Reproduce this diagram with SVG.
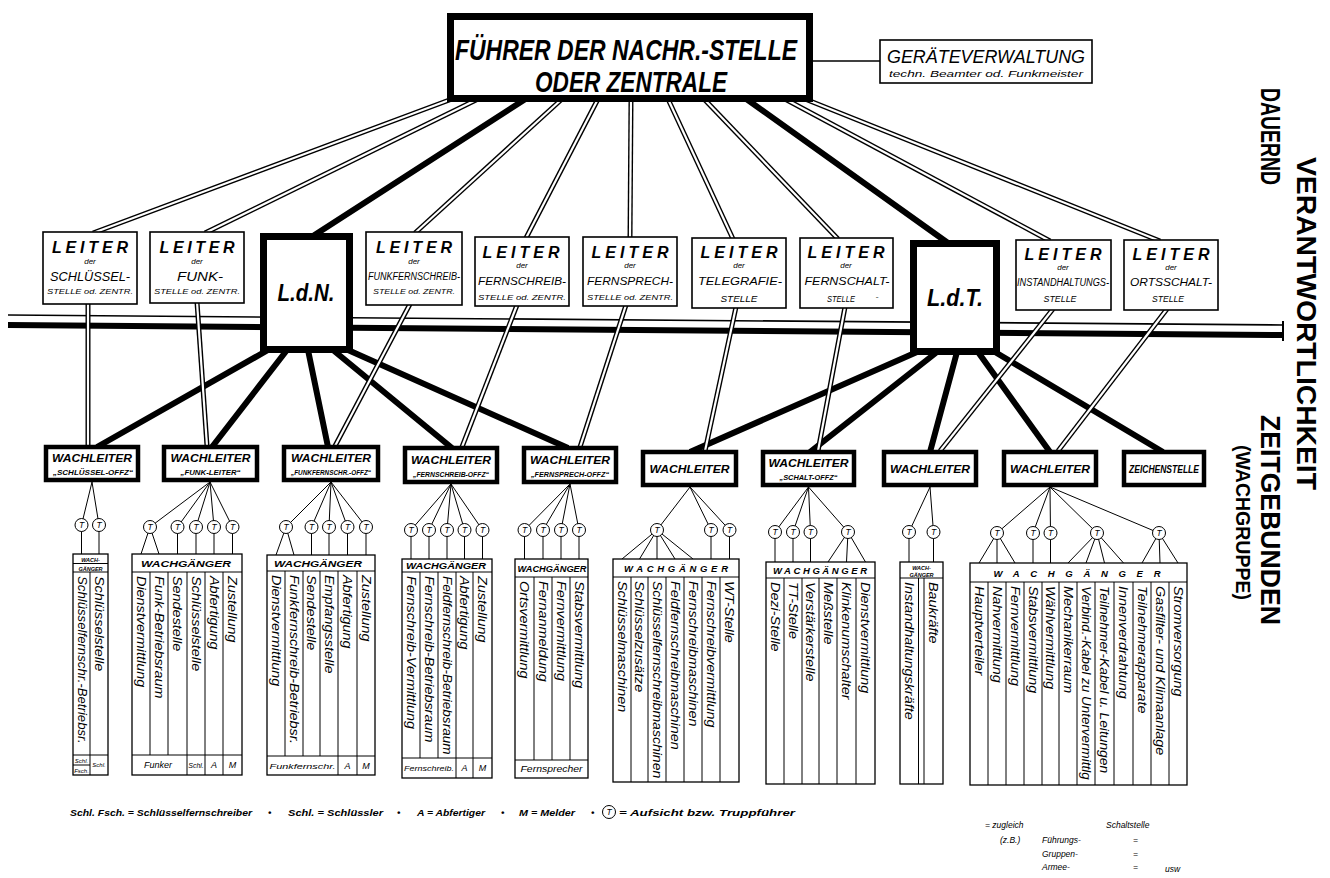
<svg xmlns="http://www.w3.org/2000/svg" width="1330" height="878" viewBox="0 0 1330 878">
<style>
text{font-family:"Liberation Sans",Arial,sans-serif;font-style:italic;fill:#000}
.b{font-weight:bold}
.m{text-anchor:middle}
.box{fill:#fff;stroke:#000;stroke-width:1.6}
.wb{fill:#fff;stroke:#000;stroke-width:4.5}
.hb{fill:#fff;stroke:#000;stroke-width:7}
.thk{stroke:#000;stroke-width:6;fill:none}
.do{stroke:#000;stroke-width:5;fill:none}
.di{stroke:#fff;stroke-width:2.2;fill:none}
.ln{stroke:#000;stroke-width:1;fill:none}
.gb{fill:#fff;stroke:#000;stroke-width:1.3}
.c{font-size:12px;dominant-baseline:central}
.lt{font-size:16px;font-weight:bold}
.der{font-size:8px}
.lm{font-size:12px}
.ls{font-size:8px}
.wl{font-size:11.5px;font-weight:bold}
.ws{font-size:7px;font-weight:bold}
.hd{font-size:9.5px;font-weight:bold}
.ft{font-size:8px}
.up{font-style:normal;font-weight:bold;dominant-baseline:central}
.lg{font-size:9.5px;font-weight:bold}
</style>
<defs>
<g id="tc"><circle r="6.5" fill="#fff" stroke="#000" stroke-width="1"/><text class="m" y="3" font-size="8.5">T</text></g>
<path id="d1" d="M452 99L93 233"/>
<path id="d2" d="M478 99L205 233"/>
<path id="d4" d="M562 99L415 233"/>
<path id="d5" d="M598 99L526 238"/>
<path id="d6" d="M631 99L630 238"/>
<path id="d7" d="M668 99L733 239"/>
<path id="d8" d="M704 99L838 239"/>
<path id="d10" d="M785 99L1050 241"/>
<path id="d11" d="M805 99L1160 241"/>
<path id="e1" d="M88 303L88 446"/>
<path id="e2" d="M197 302L207 446"/>
<path id="e4" d="M410 304L335 446"/>
<path id="e5" d="M517 305L462 447"/>
<path id="e6" d="M626 305L580 447"/>
<path id="e7" d="M736 307L705 451"/>
<path id="e8" d="M845 307L818 451"/>
<path id="e10" d="M1053 309L940 451"/>
<path id="e11" d="M1167 309L1058 451"/>
</defs>
<rect width="1330" height="878" fill="#fff"/>

<g id="band">
<path d="M8 315L1283 325" stroke="#000" stroke-width="1.6"/>
<path d="M8 325L1283 335" stroke="#000" stroke-width="6"/>
<path d="M1283 321V341" stroke="#000" stroke-width="2"/>
</g>

<g id="connectors">
<path class="thk" d="M527 98L313 236M745 98L948 243M268 350L97 447M287 350L212 447M308 350L328 447M333 350L452 448M348 350L568 448M917 352L690 452M937 352L810 452M957 352L930 452M978 352L1050 452M995 352L1163 452"/>
<g class="do">
<use href="#d1"/><use href="#d2"/><use href="#d4"/><use href="#d5"/><use href="#d6"/><use href="#d7"/><use href="#d8"/><use href="#d10"/><use href="#d11"/>
<use href="#e1"/><use href="#e2"/><use href="#e4"/><use href="#e5"/><use href="#e6"/><use href="#e7"/><use href="#e8"/><use href="#e10"/><use href="#e11"/>
</g>
<g class="di">
<use href="#d1"/><use href="#d2"/><use href="#d4"/><use href="#d5"/><use href="#d6"/><use href="#d7"/><use href="#d8"/><use href="#d10"/><use href="#d11"/>
<use href="#e1"/><use href="#e2"/><use href="#e4"/><use href="#e5"/><use href="#e6"/><use href="#e7"/><use href="#e8"/><use href="#e10"/><use href="#e11"/>
</g>
<path d="M813 61H880" stroke="#000" stroke-width="1.5"/>
<path class="ln" d="M92 482L81.5 525M92 482L99 525M81.5 525V554M99 525V554"/>
<path class="ln" d="M210 482L150 527M210 482L177.5 527M210 482L196 527M210 482L214 527M210 482L232.5 527M150 527L141 554M150 527L159 554M177.5 527V554M196 527V554M214 527V554M232.5 527V554"/>
<path class="ln" d="M331 482L286 527M331 482L311.5 527M331 482L329 527M331 482L347.5 527M331 482L366 527M286 527L276 555M286 527L294 555M311.5 527V555M329 527V555M347.5 527V555M366 527V555"/>
<path class="ln" d="M451 484L411 530M451 484L429 530M451 484L447 530M451 484L464.5 530M451 484L482.5 530M411 530V559M429 530V559M447 530V559M464.5 530V559M482.5 530V559"/>
<path class="ln" d="M570 484L524.5 530M570 484L543 530M570 484L561 530M570 484L579 530M524.5 530V559M543 530V559M561 530V559M579 530V559"/>
<path class="ln" d="M690 487L657 530M690 487L711 530M690 487L729.5 530M657 530L622 559M657 530L639.5 559M657 530V559M657 530L675 559M657 530L693 559M711 530V559M729.5 530V559"/>
<path class="ln" d="M808.5 487L775 532M808.5 487L793 532M808.5 487L810.5 532M808.5 487L848 532M775 532V562M793 532V562M810.5 532V562M848 532L828 562M848 532L846.5 562M848 532L865.5 562"/>
<path class="ln" d="M930 487L909 532M930 487L933.5 532M909 532V562M933.5 532V562"/>
<path class="ln" d="M1050 487L997 533M1050 487L1033 533M1050 487L1050.5 533M1050 487L1097 533M1050 487L1159 533M997 533L979 563M997 533V563M997 533L1015 563M1033 533V563M1050.5 533V563M1097 533L1068 563M1097 533L1086 563M1097 533L1104.5 563M1097 533L1123.5 563M1159 533L1142 563M1159 533L1160 563M1159 533L1178 563"/>
</g>

<g id="fuehrer">
<rect class="hb" x="450.5" y="16.5" width="359" height="82"/>
<text class="m b" x="626" y="60" font-size="30" textLength="342" lengthAdjust="spacingAndGlyphs">FÜHRER DER NACHR.-STELLE</text>
<text class="m b" x="631" y="92" font-size="30" textLength="192" lengthAdjust="spacingAndGlyphs">ODER ZENTRALE</text>
</g>
<g id="geraeteverwaltung">
<rect class="box" x="880" y="40" width="212" height="43"/>
<text class="m" x="986" y="63" font-size="18" textLength="198" lengthAdjust="spacingAndGlyphs">GERÄTEVERWALTUNG</text>
<text class="m" x="986" y="77" font-size="8.5" textLength="194" lengthAdjust="spacingAndGlyphs">techn. Beamter od. Funkmeister</text>
</g>

<g id="leiter-schluessel">
<rect class="box" x="43" y="232" width="94" height="72"/>
<text class="m lt" x="90" y="253" textLength="76" lengthAdjust="spacing">LEITER</text>
<text class="m der" x="90" y="264">der</text>
<text class="m lm" x="90" y="281" textLength="80" lengthAdjust="spacingAndGlyphs">SCHLÜSSEL-</text>
<text class="m ls" x="90" y="294" textLength="86" lengthAdjust="spacingAndGlyphs">STELLE od. ZENTR.</text>
</g>
<g id="leiter-funk">
<rect class="box" x="150" y="232" width="94" height="71"/>
<text class="m lt" x="197" y="253" textLength="75" lengthAdjust="spacing">LEITER</text>
<text class="m der" x="197" y="264">der</text>
<text class="m lm" x="200" y="281" textLength="46" lengthAdjust="spacingAndGlyphs">FUNK-</text>
<text class="m ls" x="197" y="294" textLength="86" lengthAdjust="spacingAndGlyphs">STELLE od. ZENTR.</text>
</g>
<g id="ldn">
<rect class="hb" x="263.5" y="236.5" width="86" height="113"/>
<text class="m b" x="306" y="301" font-size="23" textLength="57" lengthAdjust="spacingAndGlyphs">L.d.N.</text>
</g>
<g id="leiter-funkfernschreib">
<rect class="box" x="366" y="232" width="96" height="73"/>
<text class="m lt" x="414" y="253" textLength="76" lengthAdjust="spacing">LEITER</text>
<text class="m der" x="414" y="264">der</text>
<text class="m" x="414" y="280" font-size="10" textLength="92" lengthAdjust="spacingAndGlyphs">FUNKFERNSCHREIB-</text>
<text class="m ls" x="414" y="294" textLength="82" lengthAdjust="spacingAndGlyphs">STELLE od. ZENTR.</text>
</g>
<g id="leiter-fernschreib">
<rect class="box" x="475" y="237" width="94" height="69"/>
<text class="m lt" x="521" y="258" textLength="77" lengthAdjust="spacing">LEITER</text>
<text class="m der" x="522" y="268">der</text>
<text class="m" x="522" y="285" font-size="11.5" textLength="88" lengthAdjust="spacingAndGlyphs">FERNSCHREIB-</text>
<text class="m ls" x="522" y="300" textLength="88" lengthAdjust="spacingAndGlyphs">STELLE od. ZENTR.</text>
</g>
<g id="leiter-fernsprech">
<rect class="box" x="583" y="237" width="94" height="69"/>
<text class="m lt" x="630" y="258" textLength="77" lengthAdjust="spacing">LEITER</text>
<text class="m der" x="630" y="268">der</text>
<text class="m" x="630" y="285" font-size="11.5" textLength="86" lengthAdjust="spacingAndGlyphs">FERNSPRECH-</text>
<text class="m ls" x="630" y="300" textLength="86" lengthAdjust="spacingAndGlyphs">STELLE od. ZENTR.</text>
</g>
<g id="leiter-telegrafie">
<rect class="box" x="692" y="238" width="94" height="70"/>
<text class="m lt" x="739" y="258" textLength="77" lengthAdjust="spacing">LEITER</text>
<text class="m der" x="739" y="268">der</text>
<text class="m" x="740" y="285" font-size="11.5" textLength="84" lengthAdjust="spacingAndGlyphs">TELEGRAFIE-</text>
<text class="m" x="739" y="302" font-size="9.5" textLength="37" lengthAdjust="spacingAndGlyphs">STELLE</text>
</g>
<g id="leiter-fernschalt">
<rect class="box" x="800" y="238" width="93" height="70"/>
<text class="m lt" x="846" y="258" textLength="77" lengthAdjust="spacing">LEITER</text>
<text class="m der" x="846" y="268">der</text>
<text class="m" x="847" y="285" font-size="11.5" textLength="85" lengthAdjust="spacingAndGlyphs">FERNSCHALT-</text>
<text class="m" x="841" y="302" font-size="9" textLength="28" lengthAdjust="spacingAndGlyphs">STELLE</text>
<text class="m" x="877" y="300" font-size="9">-</text>
</g>
<g id="ldt">
<rect class="hb" x="913.5" y="243.5" width="83" height="108"/>
<text class="m b" x="955" y="306" font-size="23" textLength="56" lengthAdjust="spacingAndGlyphs">L.d.T.</text>
</g>
<g id="leiter-instandhaltung">
<rect class="box" x="1016" y="240" width="95" height="70"/>
<text class="m lt" x="1063" y="260" textLength="77" lengthAdjust="spacing">LEITER</text>
<text class="m der" x="1063" y="270">der</text>
<text class="m" x="1063" y="286" font-size="10" textLength="92" lengthAdjust="spacingAndGlyphs">INSTANDHALTUNGS-</text>
<text class="m" x="1060" y="302" font-size="8.5" textLength="33" lengthAdjust="spacingAndGlyphs">STELLE</text>
</g>
<g id="leiter-ortsschalt">
<rect class="box" x="1124" y="240" width="94" height="70"/>
<text class="m lt" x="1171" y="260" textLength="77" lengthAdjust="spacing">LEITER</text>
<text class="m der" x="1171" y="270">der</text>
<text class="m" x="1171" y="286" font-size="11" textLength="82" lengthAdjust="spacingAndGlyphs">ORTSSCHALT-</text>
<text class="m" x="1168" y="302" font-size="8.5" textLength="32" lengthAdjust="spacingAndGlyphs">STELLE</text>
</g>

<g id="wachleiter-schluessel">
<rect class="wb" x="46" y="447" width="92" height="33"/>
<text class="m wl" x="92" y="462" textLength="80" lengthAdjust="spacingAndGlyphs">WACHLEITER</text>
<text class="m ws" x="93" y="475" textLength="80" lengthAdjust="spacingAndGlyphs">„SCHLÜSSEL-OFFZ“</text>
</g>
<g id="wachleiter-funk">
<rect class="wb" x="164" y="447" width="93" height="33"/>
<text class="m wl" x="210.5" y="462" textLength="80" lengthAdjust="spacingAndGlyphs">WACHLEITER</text>
<text class="m ws" x="210.5" y="475" textLength="60" lengthAdjust="spacingAndGlyphs">„FUNK-LEITER“</text>
</g>
<g id="wachleiter-funkfernschr">
<rect class="wb" x="284" y="447" width="94" height="33"/>
<text class="m wl" x="331" y="462" textLength="80" lengthAdjust="spacingAndGlyphs">WACHLEITER</text>
<text class="m ws" x="331" y="475" textLength="80" lengthAdjust="spacingAndGlyphs">„FUNKFERNSCHR.-OFFZ“</text>
</g>
<g id="wachleiter-fernschreib">
<rect class="wb" x="405" y="448" width="92" height="34"/>
<text class="m wl" x="451" y="464" textLength="80" lengthAdjust="spacingAndGlyphs">WACHLEITER</text>
<text class="m ws" x="451" y="477" textLength="76" lengthAdjust="spacingAndGlyphs">„FERNSCHREIB-OFFZ“</text>
</g>
<g id="wachleiter-fernsprech">
<rect class="wb" x="524" y="448" width="92" height="34"/>
<text class="m wl" x="570" y="464" textLength="80" lengthAdjust="spacingAndGlyphs">WACHLEITER</text>
<text class="m ws" x="570" y="477" textLength="78" lengthAdjust="spacingAndGlyphs">„FERNSPRECH-OFFZ“</text>
</g>
<g id="wachleiter-telegrafie">
<rect class="wb" x="643" y="452" width="93" height="33"/>
<text class="m wl" x="689.5" y="473" font-size="12" textLength="80" lengthAdjust="spacingAndGlyphs">WACHLEITER</text>
</g>
<g id="wachleiter-schalt">
<rect class="wb" x="763" y="452" width="91" height="33"/>
<text class="m wl" x="808.5" y="467" textLength="80" lengthAdjust="spacingAndGlyphs">WACHLEITER</text>
<text class="m ws" x="808.5" y="480" textLength="58" lengthAdjust="spacingAndGlyphs">„SCHALT-OFFZ“</text>
</g>
<g id="wachleiter-instandhaltung">
<rect class="wb" x="884" y="452" width="92" height="33"/>
<text class="m wl" x="930" y="473" font-size="12" textLength="80" lengthAdjust="spacingAndGlyphs">WACHLEITER</text>
</g>
<g id="wachleiter-ortsschalt">
<rect class="wb" x="1004" y="452" width="92" height="33"/>
<text class="m wl" x="1050" y="473" font-size="12" textLength="80" lengthAdjust="spacingAndGlyphs">WACHLEITER</text>
</g>
<g id="zeichenstelle">
<rect class="wb" x="1124" y="452" width="80" height="33"/>
<text class="m wl" x="1164" y="473" textLength="70" lengthAdjust="spacingAndGlyphs">ZEICHENSTELLE</text>
</g>

<g id="aufsicht">
<use href="#tc" x="81.5" y="525"/><use href="#tc" x="99" y="525"/>
<use href="#tc" x="150" y="527"/><use href="#tc" x="177.5" y="527"/><use href="#tc" x="196" y="527"/><use href="#tc" x="214" y="527"/><use href="#tc" x="232.5" y="527"/>
<use href="#tc" x="286" y="527"/><use href="#tc" x="311.5" y="527"/><use href="#tc" x="329" y="527"/><use href="#tc" x="347.5" y="527"/><use href="#tc" x="366" y="527"/>
<use href="#tc" x="411" y="530"/><use href="#tc" x="429" y="530"/><use href="#tc" x="447" y="530"/><use href="#tc" x="464.5" y="530"/><use href="#tc" x="482.5" y="530"/>
<use href="#tc" x="524.5" y="530"/><use href="#tc" x="543" y="530"/><use href="#tc" x="561" y="530"/><use href="#tc" x="579" y="530"/>
<use href="#tc" x="657" y="530"/><use href="#tc" x="711" y="530"/><use href="#tc" x="729.5" y="530"/>
<use href="#tc" x="775" y="532"/><use href="#tc" x="793" y="532"/><use href="#tc" x="810.5" y="532"/><use href="#tc" x="848" y="532"/>
<use href="#tc" x="909" y="532"/><use href="#tc" x="933.5" y="532"/>
<use href="#tc" x="997" y="533"/><use href="#tc" x="1033" y="533"/><use href="#tc" x="1050.5" y="533"/><use href="#tc" x="1097" y="533"/><use href="#tc" x="1159" y="533"/>
</g>

<g id="wachgruppe-schluessel">
<rect class="gb" x="73" y="554" width="35" height="221"/>
<path class="ln" d="M73 563.5H108M73 572H108M90 572V775M73 755H108M73 765H90"/>
<text class="m b" x="90.5" y="562" font-size="5.5">WACH-</text>
<text class="m b" x="90.5" y="570.5" font-size="5.5">GÄNGER</text>
<text class="c" transform="translate(81.5,576) rotate(90) scale(1.1,1)">Schlüsselfernschr.-Betriebsr.</text>
<text class="c" transform="translate(99,576) rotate(90) scale(1.2,1)">Schlüsselstelle</text>
<text class="m" x="81.5" y="762.5" font-size="6">Schl.</text>
<text class="m" x="81.5" y="772.5" font-size="6">Fsch.</text>
<text class="m" x="99" y="767" font-size="6">Schl.</text>
</g>
<g id="wachgruppe-funk">
<rect class="gb" x="132" y="554" width="110" height="221"/>
<path class="ln" d="M132 572H242M150 572V755M168 572V755M187 572V775M205 572V775M223 572V775M132 755H242"/>
<text class="m hd" x="186" y="567" textLength="90" lengthAdjust="spacingAndGlyphs">WACHGÄNGER</text>
<text class="c" transform="translate(141,576) rotate(90) scale(1.2,1)">Dienstvermittlung</text>
<text class="c" transform="translate(159,576) rotate(90) scale(1.2,1)">Funk-Betriebsraum</text>
<text class="c" transform="translate(177.5,576) rotate(90) scale(1.2,1)">Sendestelle</text>
<text class="c" transform="translate(196,576) rotate(90) scale(1.2,1)">Schlüsselstelle</text>
<text class="c" transform="translate(214,576) rotate(90) scale(1.2,1)">Abfertigung</text>
<text class="c" transform="translate(232.5,576) rotate(90) scale(1.2,1)">Zustellung</text>
<text class="m" x="158" y="768" font-size="9">Funker</text>
<text class="m" x="196" y="768" font-size="7">Schl.</text>
<text class="m" x="214" y="768" font-size="9">A</text>
<text class="m" x="232.5" y="768" font-size="9">M</text>
</g>
<g id="wachgruppe-funkfernschreib">
<rect class="gb" x="267" y="555" width="108" height="220"/>
<path class="ln" d="M267 571H375M285 571V756M303 571V756M320 571V756M338 571V775M357 571V775M267 756H375"/>
<text class="m hd" x="318" y="567" textLength="88" lengthAdjust="spacingAndGlyphs">WACHGÄNGER</text>
<text class="c" transform="translate(276,575) rotate(90) scale(1.2,1)">Dienstvermittlung</text>
<text class="c" transform="translate(294,575) rotate(90) scale(1.2,1)">Funkfernschreib-Betriebsr.</text>
<text class="c" transform="translate(311.5,575) rotate(90) scale(1.2,1)">Sendestelle</text>
<text class="c" transform="translate(329,575) rotate(90) scale(1.2,1)">Empfangsstelle</text>
<text class="c" transform="translate(347.5,575) rotate(90) scale(1.2,1)">Abfertigung</text>
<text class="c" transform="translate(366,575) rotate(90) scale(1.2,1)">Zustellung</text>
<text class="m" x="302.5" y="769" font-size="8" textLength="66" lengthAdjust="spacingAndGlyphs">Funkfernschr.</text>
<text class="m" x="347.5" y="769" font-size="9">A</text>
<text class="m" x="366" y="769" font-size="9">M</text>
</g>
<g id="wachgruppe-fernschreib">
<rect class="gb" x="402" y="559" width="90" height="219"/>
<path class="ln" d="M402 572H492M420 572V758M438 572V758M456 572V778M473 572V778M402 758H492"/>
<text class="m hd" x="446" y="569" font-size="8.5" textLength="80" lengthAdjust="spacingAndGlyphs">WACHGÄNGER</text>
<text class="c" transform="translate(411,576) rotate(90) scale(1.2,1)">Fernschreib-Vermittlung</text>
<text class="c" transform="translate(429,576) rotate(90) scale(1.2,1)">Fernschreib-Betriebsraum</text>
<text class="c" transform="translate(447,576) rotate(90) scale(1.13,1)">Feldfernschreib-Betriebsraum</text>
<text class="c" transform="translate(464.5,576) rotate(90) scale(1.2,1)">Abfertigung</text>
<text class="c" transform="translate(482.5,576) rotate(90) scale(1.2,1)">Zustellung</text>
<text class="m" x="429" y="771" font-size="7.5" textLength="50" lengthAdjust="spacingAndGlyphs">Fernschreib.</text>
<text class="m" x="464.5" y="771" font-size="9">A</text>
<text class="m" x="482.5" y="771" font-size="9">M</text>
</g>
<g id="wachgruppe-fernsprech">
<rect class="gb" x="515" y="559" width="73" height="219"/>
<path class="ln" d="M515 577H588M534 577V760M552 577V760M570 577V760M515 760H588"/>
<text class="m hd" x="552" y="571.5" font-size="8" textLength="69" lengthAdjust="spacingAndGlyphs">WACHGÄNGER</text>
<text class="c" transform="translate(524.5,581) rotate(90) scale(1.2,1)">Ortsvermittlung</text>
<text class="c" transform="translate(543,581) rotate(90) scale(1.2,1)">Fernanmeldung</text>
<text class="c" transform="translate(561,581) rotate(90) scale(1.2,1)">Fernvermittlung</text>
<text class="c" transform="translate(579,581) rotate(90) scale(1.2,1)">Stabsvermittlung</text>
<text class="m" x="551.5" y="772" font-size="8.5" textLength="62" lengthAdjust="spacingAndGlyphs">Fernsprecher</text>
</g>
<g id="wachgruppe-telegrafie">
<rect class="gb" x="613" y="559" width="126" height="223"/>
<path class="ln" d="M613 577H739M631 577V782M648 577V782M666 577V782M684 577V782M702 577V782M720 577V782"/>
<text class="m hd" x="676" y="572" font-size="10" textLength="104" lengthAdjust="spacing">WACHGÄNGER</text>
<text class="c" transform="translate(622,581) rotate(90) scale(1.2,1)">Schlüsselmaschinen</text>
<text class="c" transform="translate(639.5,581) rotate(90) scale(1.2,1)">Schlüsselzusätze</text>
<text class="c" transform="translate(657,581) rotate(90) scale(1.17,1)">Schlüsselfernschreibmaschinen</text>
<text class="c" transform="translate(675,581) rotate(90) scale(1.2,1)">Feldfernschreibmaschinen</text>
<text class="c" transform="translate(693,581) rotate(90) scale(1.2,1)">Fernschreibmaschinen</text>
<text class="c" transform="translate(711,581) rotate(90) scale(1.2,1)">Fernschreibvermittlung</text>
<text class="c" transform="translate(729.5,581) rotate(90) scale(1.2,1)">WT-Stelle</text>
</g>
<g id="wachgruppe-fernschalt">
<rect class="gb" x="766" y="562" width="109" height="222"/>
<path class="ln" d="M766 578H875M784 578V784M802 578V784M819 578V784M837 578V784M856 578V784"/>
<text class="m hd" x="820" y="574" font-size="9.5" textLength="94" lengthAdjust="spacing">WACHGÄNGER</text>
<text class="c" transform="translate(775,582) rotate(90) scale(1.2,1)">Dezi-Stelle</text>
<text class="c" transform="translate(793,582) rotate(90) scale(1.2,1)">TT-Stelle</text>
<text class="c" transform="translate(810.5,582) rotate(90) scale(1.2,1)">Verstärkerstelle</text>
<text class="c" transform="translate(828,582) rotate(90) scale(1.2,1)">Meßstelle</text>
<text class="c" transform="translate(846.5,582) rotate(90) scale(1.2,1)">Klinkenumschalter</text>
<text class="c" transform="translate(865.5,582) rotate(90) scale(1.2,1)">Dienstvermittlung</text>
</g>
<g id="wachgruppe-instandhaltung">
<rect class="gb" x="900" y="562" width="43" height="222"/>
<path class="ln" d="M900 578H943M918.5 578V784M924 578V784"/>
<text class="m b" x="921.5" y="569.5" font-size="5.5">WACH-</text>
<text class="m b" x="921.5" y="576.5" font-size="5.5">GÄNGER</text>
<text class="c" transform="translate(909,582) rotate(90) scale(1.2,1)">Instandhaltungskräfte</text>
<text class="c" transform="translate(933.5,582) rotate(90) scale(1.2,1)">Baukräfte</text>
</g>
<g id="wachgruppe-ortsschalt">
<rect class="gb" x="970" y="563" width="217" height="222"/>
<path class="ln" d="M970 582H1187M988 582V785M1006 582V785M1024 582V785M1042 582V785M1059 582V785M1077 582V785M1095 582V785M1114 582V785M1133 582V785M1151 582V785M1169 582V785"/>
<text class="m hd" x="1077" y="577" font-size="10" textLength="167" lengthAdjust="spacing">WACHGÄNGER</text>
<text class="c" transform="translate(979,586) rotate(90) scale(1.2,1)">Hauptverteiler</text>
<text class="c" transform="translate(997,586) rotate(90) scale(1.2,1)">Nahvermittlung</text>
<text class="c" transform="translate(1015,586) rotate(90) scale(1.2,1)">Fernvermittlung</text>
<text class="c" transform="translate(1033,586) rotate(90) scale(1.2,1)">Stabsvermittlung</text>
<text class="c" transform="translate(1050.5,586) rotate(90) scale(1.2,1)">Wählvermittlung</text>
<text class="c" transform="translate(1068,586) rotate(90) scale(1.2,1)">Mechanikerraum</text>
<text class="c" transform="translate(1086,586) rotate(90) scale(1.12,1)">Verbind.-Kabel zu Untervermittlg</text>
<text class="c" transform="translate(1104.5,586) rotate(90) scale(1.15,1)">Teilnehmer-Kabel u. Leitungen</text>
<text class="c" transform="translate(1123.5,586) rotate(90) scale(1.2,1)">Innenverdrahtung</text>
<text class="c" transform="translate(1142,586) rotate(90) scale(1.2,1)">Teilnehmerapparate</text>
<text class="c" transform="translate(1160,586) rotate(90) scale(1.2,1)">Gasfilter- und Klimaanlage</text>
<text class="c" transform="translate(1178,586) rotate(90) scale(1.2,1)">Stromversorgung</text>
</g>

<g id="verantwortlichkeit">
<text class="up" transform="translate(1306,157) rotate(90)" font-size="27" textLength="333" lengthAdjust="spacingAndGlyphs">VERANTWORTLICHKEIT</text>
<text class="up" transform="translate(1270,88) rotate(90)" font-size="27" textLength="97" lengthAdjust="spacingAndGlyphs">DAUERND</text>
<text class="up" transform="translate(1270,415) rotate(90)" font-size="27" textLength="210" lengthAdjust="spacingAndGlyphs">ZEITGEBUNDEN</text>
<text class="up" transform="translate(1243,445) rotate(90)" font-size="20" textLength="155" lengthAdjust="spacingAndGlyphs">(WACHGRUPPE)</text>
</g>

<g id="legende">
<text class="lg" x="70" y="816" textLength="182" lengthAdjust="spacingAndGlyphs">Schl. Fsch. = Schlüsselfernschreiber</text>
<text class="lg" x="268" y="816">•</text>
<text class="lg" x="288" y="816" textLength="95" lengthAdjust="spacingAndGlyphs">Schl. = Schlüssler</text>
<text class="lg" x="397" y="816">•</text>
<text class="lg" x="417" y="816" textLength="68" lengthAdjust="spacingAndGlyphs">A = Abfertiger</text>
<text class="lg" x="501" y="816">•</text>
<text class="lg" x="519" y="816" textLength="56" lengthAdjust="spacingAndGlyphs">M = Melder</text>
<text class="lg" x="591" y="816">•</text>
<use href="#tc" x="609" y="812"/>
<text class="lg" x="619" y="816" textLength="176" lengthAdjust="spacingAndGlyphs">= Aufsicht bzw. Truppführer</text>
</g>
<g id="anmerkung">
<text x="985" y="828" font-size="8.5">= zugleich</text>
<text x="1106" y="828" font-size="8.5">Schaltstelle</text>
<text x="1000" y="843" font-size="8.5">(z.B.)</text>
<text x="1042" y="843" font-size="8.5">Führungs-</text>
<text x="1133" y="843" font-size="8.5">=</text>
<text x="1042" y="857" font-size="8.5">Gruppen-</text>
<text x="1133" y="857" font-size="8.5">=</text>
<text x="1042" y="870" font-size="8.5">Armee-</text>
<text x="1133" y="870" font-size="8.5">=</text>
<text x="1165" y="872" font-size="8.5">usw</text>
</g>
</svg>
